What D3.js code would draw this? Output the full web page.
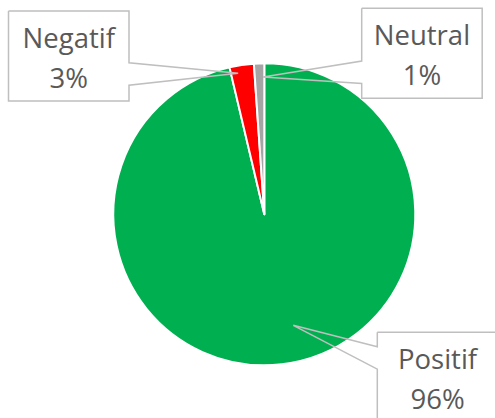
<!DOCTYPE html>
<html>
<head>
<meta charset="utf-8">
<script src="https://cdn.jsdelivr.net/npm/d3@7"></script>
<style>
  body { margin: 0; background: #fff; }
  svg { display: block; }
</style>
</head>
<body>
<div id="chart"></div>
<script>
'use strict';
/* data */
var categories = ['Positif', 'Negatif', 'Neutral'];
var values = [96.3, 2.6, 1.1];
var colors = ['#00B050', '#FF0000', '#A5A5A5'];

/* label callout layout: box corner, where the wedge opens, where it points */
var boxes = [
  { x: 377.3, y: 332.3, side: 'left', open: 14.4, f: 0.477, k: 0.76 },
  { x: 8.5, y: 11, side: 'right', open: 51.7, f: 0.3, k: 0.95 },
  { x: 361.7, y: 8.3, side: 'left', open: 52.7, f: 0.87, k: 0.91 }
];

var width = 495;
var height = 418;
var cx = 264.3;
var cy = 214.3;
var radius = 151;
var boxW = 120.5;
var boxH = 90;
var gap = 22.5;

var svg = d3.select('#chart')
  .append('svg')
  .attr('width', width)
  .attr('height', height);

var pie = d3.pie()
  .value(function(d) { return d; })
  .sort(null);

var arc = d3.arc()
  .innerRadius(0)
  .outerRadius(radius);

var arcs = pie(values);
var total = d3.sum(values);
var pct = d3.format('.0%');

var g = svg.append('g')
  .attr('transform', 'translate(' + cx + ',' + cy + ')');

g.selectAll('path')
  .data(arcs)
  .enter()
  .append('path')
  .attr('d', arc)
  .attr('fill', function(d, i) { return colors[i]; })
  .attr('stroke', '#fff')
  .attr('stroke-width', 2)
  .attr('stroke-linejoin', 'round');

/* callout labels */
arcs.forEach(function(d, i) {
  var b = boxes[i];
  var a = d.startAngle + b.f * (d.endAngle - d.startAngle);
  var r = b.k * radius;
  var tip = [cx + r * Math.sin(a), cy - r * Math.cos(a)];
  var pts;
  if (b.side === 'left') {
    pts = [[b.x, b.y], [b.x + boxW, b.y], [b.x + boxW, b.y + boxH], [b.x, b.y + boxH],
      [b.x, b.y + b.open + gap], tip, [b.x, b.y + b.open], [b.x, b.y]];
  } else {
    pts = [[b.x, b.y], [b.x + boxW, b.y], [b.x + boxW, b.y + b.open], tip,
      [b.x + boxW, b.y + b.open + gap], [b.x + boxW, b.y + boxH], [b.x, b.y + boxH], [b.x, b.y]];
  }

  svg.append('rect')
    .attr('x', b.x)
    .attr('y', b.y)
    .attr('width', boxW)
    .attr('height', boxH)
    .attr('fill', '#fff');

  svg.append('path')
    .attr('d', d3.line()(pts))
    .attr('fill', 'none')
    .attr('stroke', '#BFBFBF')
    .attr('stroke-width', 1.5);

  var t = svg.append('text')
    .attr('x', b.x + boxW / 2)
    .attr('text-anchor', 'middle')
    .attr('font-family', '"Open Sans", sans-serif')
    .attr('font-size', '27.5px')
    .attr('fill', '#595959');
  t.append('tspan')
    .attr('x', b.x + boxW / 2)
    .attr('y', b.y + 37)
    .text(categories[i]);
  t.append('tspan')
    .attr('x', b.x + boxW / 2)
    .attr('y', b.y + 76.5)
    .text(pct(d.value / total));
});
</script>
</body>
</html>
